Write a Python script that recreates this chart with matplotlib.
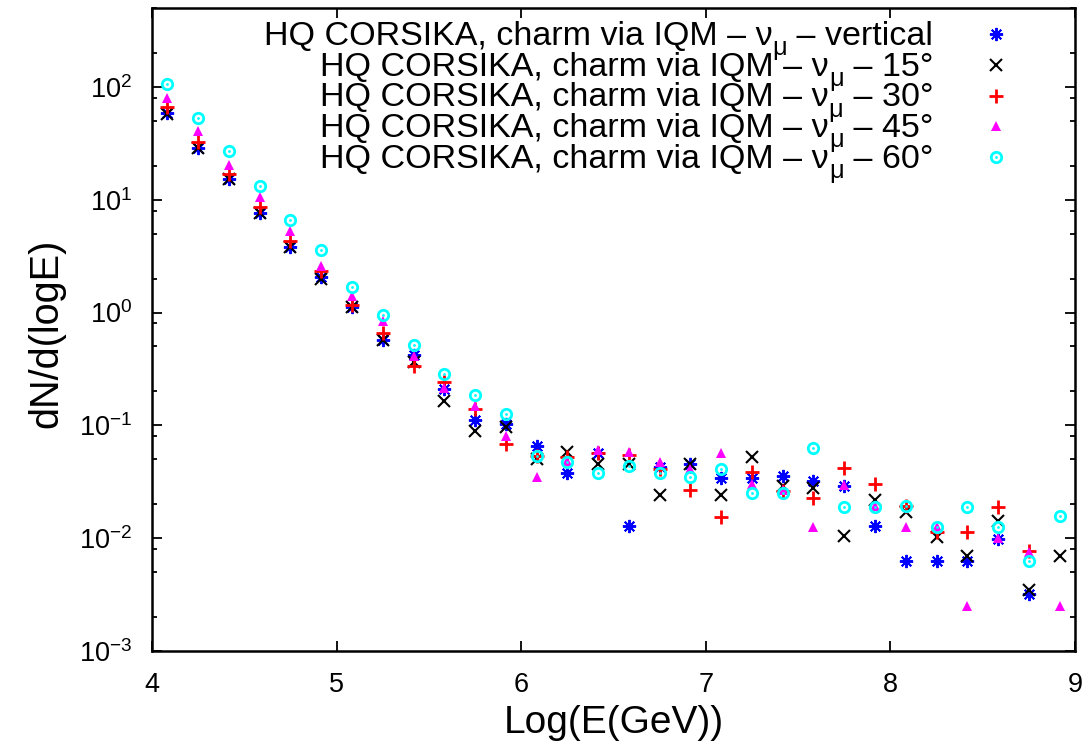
import numpy as np
import matplotlib
matplotlib.use("Agg")
import matplotlib.pyplot as plt
from matplotlib.ticker import LogLocator, MultipleLocator, NullFormatter

plt.rcParams['font.family'] = ['Liberation Sans', 'DejaVu Sans']
plt.rcParams['mathtext.fontset'] = 'custom'
plt.rcParams['mathtext.rm'] = 'Liberation Sans'
plt.rcParams['mathtext.it'] = 'Liberation Sans:italic'
plt.rcParams['mathtext.bf'] = 'Liberation Sans:bold'

# bin centres in log10(E/GeV)
log_e = [4 + (i + 0.5) / 6 for i in range(30)]

nan = float('nan')
vertical = [58.9, 29.0, 15.1, 7.59, 3.79, 2.06, 1.13, 0.573, 0.42, 0.21,
            0.112, 0.103, 0.0653, 0.0378, 0.057, 0.0129, 0.043, 0.0455, 0.0342, 0.0342,
            0.0353, 0.0324, 0.029, 0.0129, 0.0063, 0.0063, 0.0063, 0.0098, 0.0032, nan]
deg15 = [58.0, 29.0, 15.1, 7.59, 3.79, 2.0, 1.12, 0.573, 0.367, 0.166,
         0.0898, 0.096, 0.05, 0.0577, 0.0455, 0.045, 0.0243, 0.0455, 0.0243, 0.0522,
         0.029, 0.0279, 0.0105, 0.0219, 0.017, 0.0103, 0.0070, 0.0143, 0.0035, 0.0070]
deg30 = [66.0, 32.7, 16.8, 8.69, 4.34, 2.35, 1.16, 0.66, 0.334, 0.241,
         0.141, 0.0684, 0.054, 0.0522, 0.0568, 0.0546, 0.041, 0.0267, 0.0153, 0.0384,
         0.026, 0.0226, 0.0417, 0.0302, 0.0192, 0.0113, 0.0113, 0.019, 0.0077, nan]
deg45 = [79.8, 41.0, 20.4, 10.5, 5.29, 2.57, 1.40, 0.848, 0.415, 0.213,
         0.148, 0.080, 0.0351, 0.048, 0.0609, 0.0577, 0.0476, 0.041, 0.0568, 0.0302,
         0.027, 0.0126, 0.0296, 0.0192, 0.0126, 0.0126, 0.00252, 0.00998, 0.0075, 0.00252]
deg60 = [106.0, 52.8, 26.9, 13.2, 6.62, 3.59, 1.68, 0.946, 0.519, 0.286,
         0.186, 0.126, 0.0538, 0.0471, 0.0378, 0.044, 0.0378, 0.0347, 0.041, 0.0252,
         0.0252, 0.0627, 0.019, 0.019, 0.0192, 0.0126, 0.019, 0.0126, 0.0063, 0.0158]

prefix = "HQ CORSIKA, charm via IQM – ν"
suffixes = [" – vertical", " – 15°", " – 30°", " – 45°", " – 60°"]

fig = plt.figure(figsize=(10.92, 7.53), dpi=100)
ax = fig.add_axes([152/1092, (753-651)/753, 923/1092, 643/753])

styles = [
    dict(marker=(8, 2, 0), color='#0000ff', ms=9.5, mew=1.4, ls='none'),
    dict(marker='x', color='black', ms=8, mew=1.5, ls='none'),
    dict(marker='+', color='#ff0000', ms=9.5, mew=2.0, ls='none'),
    dict(marker='^', color='#ff00ff', ms=7.5, mew=0, ls='none'),
    dict(marker='o', color='#00ffff', mfc='none', ms=7.5, mew=2.0, ls='none'),
]
series = [vertical, deg15, deg30, deg45, deg60]

for s, st in zip(series, styles):
    ax.plot(log_e, s, clip_on=False, **st)
    if st['marker'] == 'o':
        ax.plot(log_e, s, ls='none', marker='o', ms=2, color='#00ffff', mew=0)

ax.set_yscale('log')
ax.set_xlim(4, 9)
ax.set_ylim(1e-3, 500)
ax.xaxis.set_major_locator(MultipleLocator(1))
ax.yaxis.set_major_locator(LogLocator(base=10, numticks=20))
ax.yaxis.set_minor_locator(LogLocator(base=10, subs=[2, 5, 8], numticks=20))
ax.yaxis.set_minor_formatter(NullFormatter())
ax.tick_params(which='both', direction='in', top=True, right=True, width=1.3)
ax.tick_params(which='major', length=7, labelsize=19.5)
ax.tick_params(axis='y', which='major', pad=14)
ax.tick_params(axis='x', which='major', pad=15)
ax.tick_params(which='minor', length=3.5)
for sp in ax.spines.values():
    sp.set_linewidth(1.8)

ax.set_xlabel("Log(E(GeV))", fontsize=28)
ax.set_ylabel("dN/d(logE)", fontsize=28.5)
ax.xaxis.set_label_coords(0.5, -0.084)
ax.yaxis.set_label_coords(-0.094, 0.4946)

# legend (gnuplot-style: right-aligned text, marker to the right)
fs = 24.5
x_text = (933 - 152) / 923
x_mark = (996 - 152) / 923
for k in range(5):
    y_mark = (651 - (34 + 30.75 * k)) / 643
    y_base = (651 - (45 + 30.75 * k)) / 643
    tb = ax.text(x_text, y_base, suffixes[k], transform=ax.transAxes,
                 ha='right', va='baseline', fontsize=fs)
    tm = ax.annotate("μ", xy=(0, y_base), xycoords=(tb, 'axes fraction'),
                     xytext=(0, -10), textcoords='offset pixels',
                     ha='right', va='baseline', fontsize=fs * 0.75)
    ax.annotate(prefix, xy=(0, y_base), xycoords=(tm, 'axes fraction'),
                ha='right', va='baseline', fontsize=fs)
    st = dict(styles[k])
    ax.plot([x_mark], [y_mark], transform=ax.transAxes, clip_on=False, **st)
    if st['marker'] == 'o':
        ax.plot([x_mark], [y_mark], transform=ax.transAxes, ls='none', marker='o',
                ms=2, color='#00ffff', mew=0, clip_on=False)

fig.savefig("out.png", dpi=100)
